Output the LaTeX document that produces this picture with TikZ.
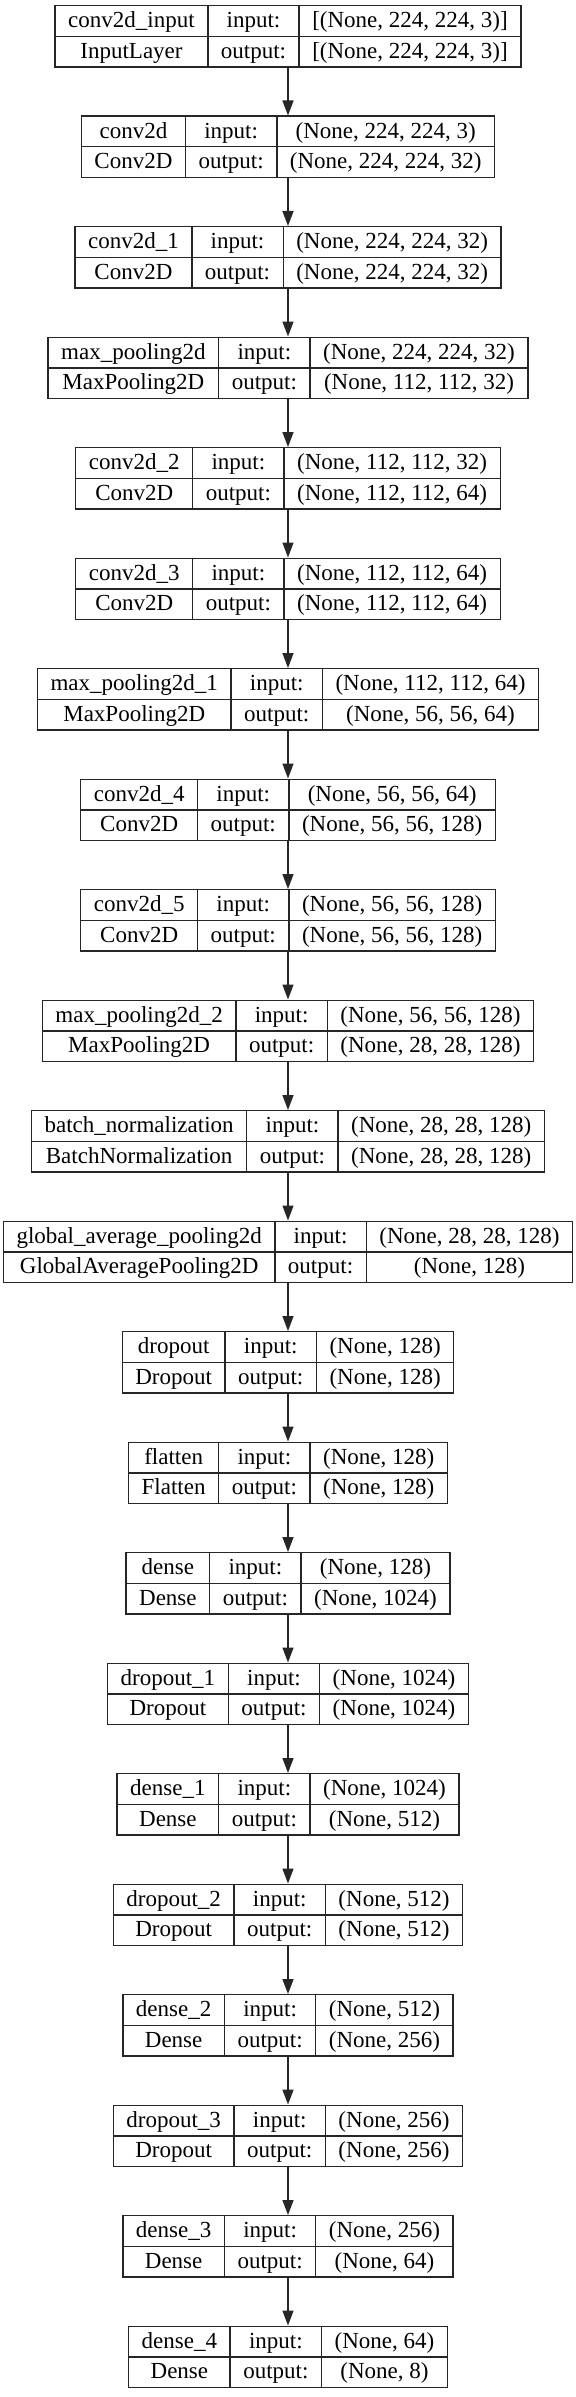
\documentclass[tikz,border=0pt]{standalone}
\usepackage{fontspec}
\setmainfont{Liberation Serif}
\usepackage{colortbl}
\usetikzlibrary{positioning,arrows.meta}
\setlength{\tabcolsep}{6.2pt}
\setlength{\arrayrulewidth}{0.7pt}
\arrayrulecolor{black!85}
% one keras layer: name, class, input shape, output shape
\newcommand{\layertab}[4]{%
  \begin{tabular}{|c|c|c|}\hline
    \rule[-3.8pt]{0pt}{14.5pt}#1 & input: & #3\\\hline
    \rule[-3.8pt]{0pt}{14.5pt}#2 & output: & #4\\\hline
  \end{tabular}}
\begin{document}
\begin{tikzpicture}[
    layer/.style={inner sep=0pt,outer sep=0pt,font=\fontsize{11.5}{13}\selectfont},
    flow/.style={-{Triangle[length=7.5pt,width=5.5pt]},line width=0.7pt,draw=black!85},
    node distance=23.95pt]
  \useasboundingbox (-144pt,2.5pt) rectangle (144pt,-1196pt);
  \node[layer,anchor=north] (in) at (0,0)
    {\layertab{conv2d\_input}{InputLayer}{[(None, 224, 224, 3)]}{[(None, 224, 224, 3)]}};
  \node[layer,below=of in] (cv)
    {\layertab{conv2d}{Conv2D}{(None, 224, 224, 3)}{(None, 224, 224, 32)}};
  \node[layer,below=of cv] (cv1)
    {\layertab{conv2d\_1}{Conv2D}{(None, 224, 224, 32)}{(None, 224, 224, 32)}};
  \node[layer,below=of cv1] (mp)
    {\layertab{max\_pooling2d}{MaxPooling2D}{(None, 224, 224, 32)}{(None, 112, 112, 32)}};
  \node[layer,below=of mp] (cv2)
    {\layertab{conv2d\_2}{Conv2D}{(None, 112, 112, 32)}{(None, 112, 112, 64)}};
  \node[layer,below=of cv2] (cv3)
    {\layertab{conv2d\_3}{Conv2D}{(None, 112, 112, 64)}{(None, 112, 112, 64)}};
  \node[layer,below=of cv3] (mp1)
    {\layertab{max\_pooling2d\_1}{MaxPooling2D}{(None, 112, 112, 64)}{(None, 56, 56, 64)}};
  \node[layer,below=of mp1] (cv4)
    {\layertab{conv2d\_4}{Conv2D}{(None, 56, 56, 64)}{(None, 56, 56, 128)}};
  \node[layer,below=of cv4] (cv5)
    {\layertab{conv2d\_5}{Conv2D}{(None, 56, 56, 128)}{(None, 56, 56, 128)}};
  \node[layer,below=of cv5] (mp2)
    {\layertab{max\_pooling2d\_2}{MaxPooling2D}{(None, 56, 56, 128)}{(None, 28, 28, 128)}};
  \node[layer,below=of mp2] (bn)
    {\layertab{batch\_normalization}{BatchNormalization}{(None, 28, 28, 128)}{(None, 28, 28, 128)}};
  \node[layer,below=of bn] (gap)
    {\layertab{global\_average\_pooling2d}{GlobalAveragePooling2D}{(None, 28, 28, 128)}{(None, 128)}};
  \node[layer,below=of gap] (do)
    {\layertab{dropout}{Dropout}{(None, 128)}{(None, 128)}};
  \node[layer,below=of do] (fl)
    {\layertab{flatten}{Flatten}{(None, 128)}{(None, 128)}};
  \node[layer,below=of fl] (de)
    {\layertab{dense}{Dense}{(None, 128)}{(None, 1024)}};
  \node[layer,below=of de] (do1)
    {\layertab{dropout\_1}{Dropout}{(None, 1024)}{(None, 1024)}};
  \node[layer,below=of do1] (de1)
    {\layertab{dense\_1}{Dense}{(None, 1024)}{(None, 512)}};
  \node[layer,below=of de1] (do2)
    {\layertab{dropout\_2}{Dropout}{(None, 512)}{(None, 512)}};
  \node[layer,below=of do2] (de2)
    {\layertab{dense\_2}{Dense}{(None, 512)}{(None, 256)}};
  \node[layer,below=of de2] (do3)
    {\layertab{dropout\_3}{Dropout}{(None, 256)}{(None, 256)}};
  \node[layer,below=of do3] (de3)
    {\layertab{dense\_3}{Dense}{(None, 256)}{(None, 64)}};
  \node[layer,below=of de3] (de4)
    {\layertab{dense\_4}{Dense}{(None, 64)}{(None, 8)}};
  % connectors
  \foreach \a/\b in {in/cv,cv/cv1,cv1/mp,mp/cv2,cv2/cv3,cv3/mp1,mp1/cv4,cv4/cv5,
      cv5/mp2,mp2/bn,bn/gap,gap/do,do/fl,fl/de,de/do1,do1/de1,de1/do2,do2/de2,
      de2/do3,do3/de3,de3/de4}
    \draw[flow] (\a.south) -- (\b.north);
\end{tikzpicture}
\end{document}
